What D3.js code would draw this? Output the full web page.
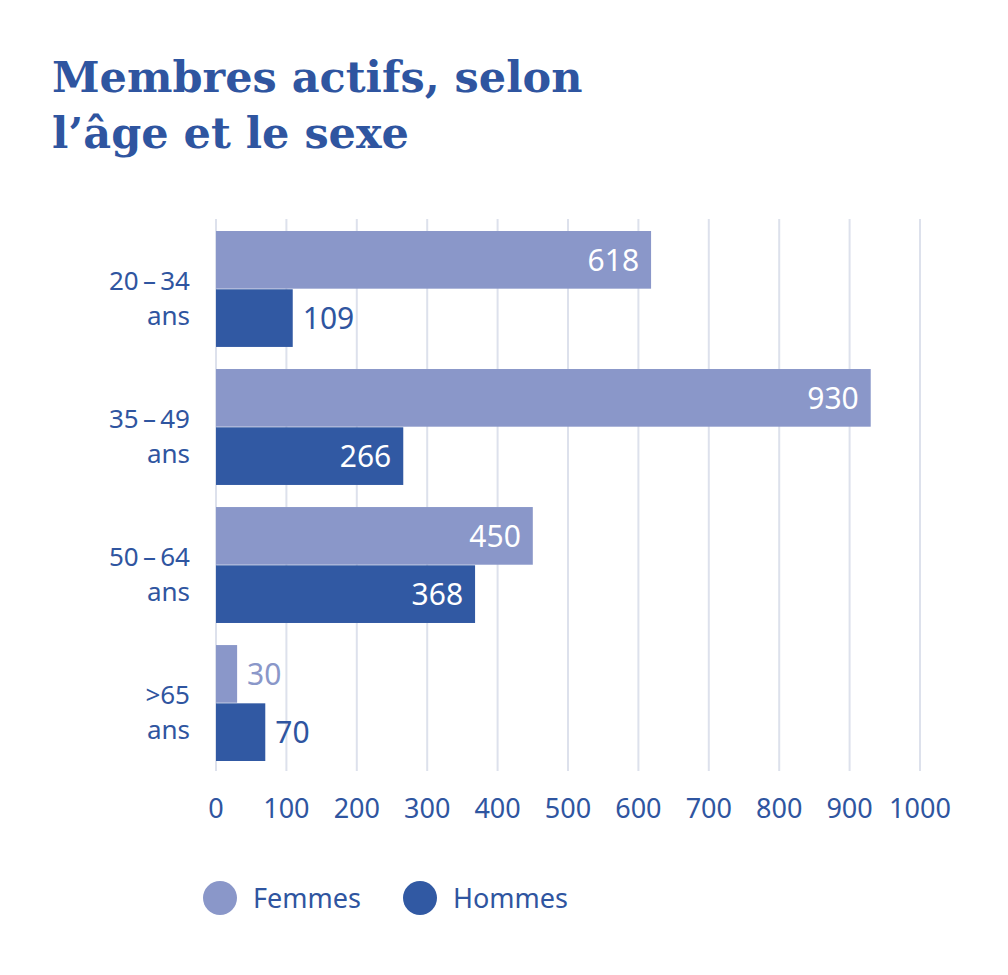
<!DOCTYPE html>
<html><head><meta charset="utf-8">
<script src="https://cdn.jsdelivr.net/npm/d3@7"></script>
<style>body{margin:0;background:#fff}</style>
</head><body>
<svg id="c" width="1008" height="975"></svg>
<script>
var categories = [["20\u2009\u2013\u200934","ans"],["35\u2009\u2013\u200949","ans"],["50\u2009\u2013\u200964","ans"],[">65","ans"]];
var femmes = [618, 930, 450, 30];
var hommes = [109, 266, 368, 70];
var ticks = [0,100,200,300,400,500,600,700,800,900,1000];
var series = [{name:"Femmes",values:femmes,color:"#8a97c9"},{name:"Hommes",values:hommes,color:"#3159a3"}];
var textCol = "#2f55a0", font = "'Noto Sans', sans-serif";

var svg = d3.select("#c");
var x = d3.scaleLinear().domain([0,1000]).range([216,920]);
var y = d3.scaleBand().domain(d3.range(categories.length)).range([231,761]).paddingInner(0.16).paddingOuter(0);
var sub = d3.scaleBand().domain([0,1]).range([0,y.bandwidth()]).paddingInner(0.01);

svg.append("text").attr("x",52).attr("y",92).attr("fill",textCol)
	.style("font","bold 43px 'DejaVu Serif', serif").text("Membres actifs, selon");
svg.append("text").attr("x",52).attr("y",148).attr("fill",textCol)
	.style("font","bold 43px 'DejaVu Serif', serif").text("l\u2019âge et le sexe");

// grid
svg.selectAll(".grid").data(ticks).enter().append("line")
	.attr("x1",d=>x(d)).attr("x2",d=>x(d)).attr("y1",219).attr("y2",771)
	.attr("stroke","#dde1ec").attr("stroke-width",2);
svg.selectAll(".tick").data(ticks).enter().append("text")
	.attr("x",d=>x(d)).attr("y",818).attr("text-anchor","middle").attr("fill",textCol)
	.style("font","27px "+font).text(d=>d);

series.forEach(function(s,si){
	var g = svg.append("g");
	s.values.forEach(function(v,i){
		var by = y(i)+sub(si), bh = sub.bandwidth();
		g.append("rect").attr("x",x(0)).attr("y",by).attr("width",x(v)-x(0)).attr("height",bh).attr("fill",s.color);
		var inside = v>=150;
		g.append("text").attr("x",inside? x(v)-12 : x(v)+10).attr("y",by+bh/2+11)
			.attr("text-anchor",inside?"end":"start")
			.attr("fill",inside?"#fff":(si==0?s.color:textCol))
			.style("font","30px "+font).text(v);
	});
});

categories.forEach(function(c,i){
	var cy = y(i)+y.bandwidth()/2;
	svg.append("text").attr("text-anchor","end").attr("fill",textCol).style("font","26px "+font)
		.attr("x",190).attr("y",cy+1).text(c[0]);
	svg.append("text").attr("text-anchor","end").attr("fill",textCol).style("font","26px "+font)
		.attr("x",190).attr("y",cy+36).text(c[1]);
});

var lx = [220,420];
series.forEach(function(s,i){
	svg.append("circle").attr("cx",lx[i]).attr("cy",898).attr("r",17).attr("fill",s.color);
	svg.append("text").attr("x",lx[i]+33).attr("y",908).attr("fill",textCol).style("font","27px "+font).text(s.name);
});
</script>
</body></html>
